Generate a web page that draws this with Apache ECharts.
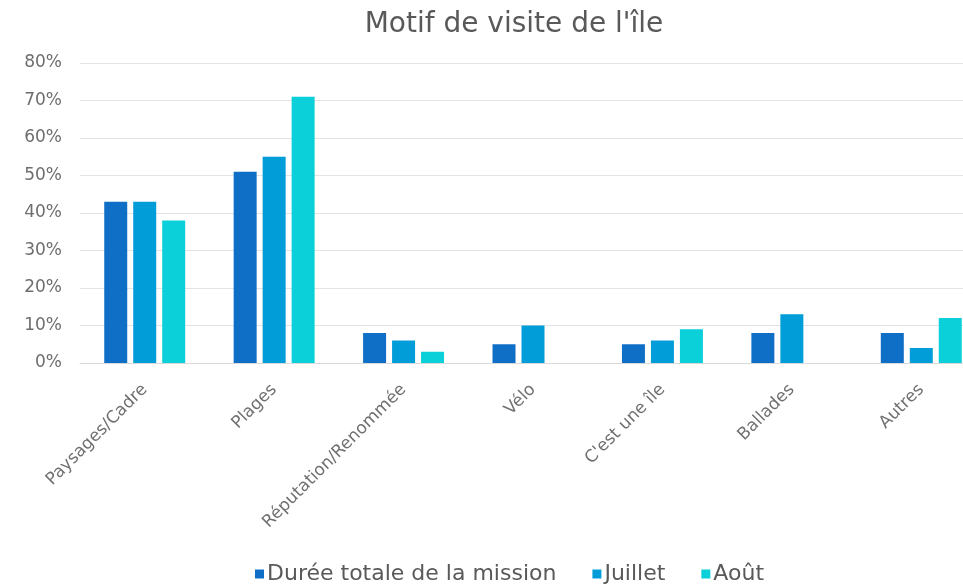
<!DOCTYPE html>
<html>
<head>
<meta charset="utf-8">
<script src="https://cdn.jsdelivr.net/npm/echarts@6/dist/echarts.min.js"></script>
<style>
html, body { margin: 0; padding: 0; background: #fff; }
#chart { width: 963px; height: 588px; }
</style>
</head>
<body>
<div id="chart"></div>
<script>
// Motif de visite
var categories = ['Paysages/Cadre', 'Plages', 'Réputation/Renommée', 'Vélo', "C'est une île", 'Ballades', 'Autres'];
var dureeTotale = [43, 51, 8, 5, 5, 8, 8];
var juillet = [43, 55, 6, 10, 6, 13, 4];
var aout = [38, 71, 3, null, 9, null, 12];
var yTicks = [0, 10, 20, 30, 40, 50, 60, 70, 80];

var chart = echarts.init(document.getElementById('chart'));
var txt = '#595959';
var option = {
    animation: false,
    color: ['#0F6FC6', '#009DD9', '#0BD0D9'],
    title: {
        text: "Motif de visite de l'île",
        left: 509,
        top: 6,
        textAlign: 'center',
        textStyle: { fontFamily: 'DejaVu Sans', fontSize: 28, fontWeight: 'normal', color: txt }
    },
    legend: {
        top: 558,
        left: 250,
        itemWidth: 9,
        itemHeight: 9,
        itemGap: 36,
        icon: 'rect',
        textStyle: { fontFamily: 'DejaVu Sans', fontSize: 22, color: txt, padding: [0, 0, 0, -2] },
        data: ['Durée totale de la mission', 'Juillet', 'Août']
    },
    grid: {
        left: 80,
        right: -23,
        top: 63,
        bottom: 225,
        outerBoundsMode: 'none'
    },
    xAxis: {
        type: 'category',
        data: categories,
        axisLine: { lineStyle: { color: '#D9D9D9' } },
        axisTick: { show: false },
        axisLabel: {
            rotate: 45,
            interval: 0,
            margin: 24,
            fontFamily: 'DejaVu Sans',
            fontSize: 17,
            color: '#707070'
        }
    },
    yAxis: {
        type: 'value',
        min: yTicks[0],
        max: yTicks[yTicks.length - 1],
        interval: 10,
        axisLine: { show: false },
        axisTick: { show: false },
        splitLine: { lineStyle: { color: '#E3E3E3' } },
        axisLabel: {
            margin: 18,
            fontFamily: 'DejaVu Sans',
            fontSize: 17,
            color: '#6E6E6E',
            formatter: '{value}%'
        }
    },
    series: [
        { name: 'Durée totale de la mission', type: 'bar', data: dureeTotale, barWidth: 23, barGap: '26%' },
        { name: 'Juillet', type: 'bar', data: juillet, barWidth: 23, barGap: '26%' },
        { name: 'Août', type: 'bar', data: aout, barWidth: 23, barGap: '26%' }
    ]
};
chart.setOption(option);
window.onresize = chart.resize;
</script>
</body>
</html>
